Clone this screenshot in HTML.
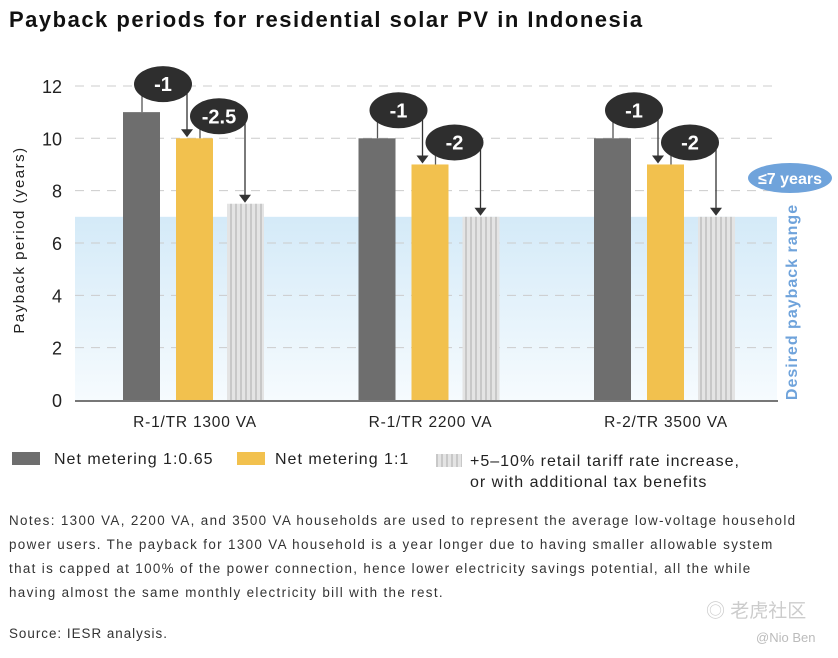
<!DOCTYPE html>
<html><head><meta charset="utf-8"><style>
body{margin:0;background:#fff;font-family:"Liberation Sans",sans-serif;}
#wrap{position:relative;width:838px;height:658px;overflow:hidden;}
.t{position:absolute;color:#222;white-space:nowrap;}
</style></head><body>
<div id="wrap">
<div class="t" style="left:9px;top:7px;font-size:22px;font-weight:bold;color:#111;letter-spacing:1.5px;">Payback periods for residential solar PV in Indonesia</div>
<svg id="c" width="838" height="440" style="position:absolute;left:0;top:0">
<defs>
<linearGradient id="bg" x1="0" y1="0" x2="0" y2="1"><stop offset="0" stop-color="#d4eaf8"/><stop offset="1" stop-color="#f6fbfe"/></linearGradient>
<pattern id="hatch" width="5" height="5" patternUnits="userSpaceOnUse"><rect width="5" height="5" fill="#e4e4e4"/><rect width="2" height="5" fill="#c8c8c8"/></pattern>
</defs>
</svg>
<div class="t" style="left:12px;top:451px;font-size:16px;letter-spacing:1px;"><span style="display:inline-block;width:28px;height:13px;background:#6e6e6e;vertical-align:-1px;margin-right:14px"></span>Net metering 1:0.65</div>
<div class="t" style="left:237px;top:451px;font-size:16px;letter-spacing:1px;"><span style="display:inline-block;width:28px;height:13px;background:#f2c14e;vertical-align:-1px;margin-right:10px"></span>Net metering 1:1</div>
<div class="t" style="left:436px;top:451px;font-size:16px;line-height:21px;letter-spacing:1px;"><span style="display:inline-block;width:26px;height:13px;background:repeating-linear-gradient(90deg,#c8c8c8 0 2px,#e4e4e4 2px 5px);vertical-align:-1px;margin-right:8px"></span>+5–10% retail tariff rate increase,<br><span style="margin-left:34px">or with additional tax benefits</span></div>
<div class="t" style="left:9px;top:509px;font-size:13.4px;line-height:24px;color:#333;letter-spacing:1.35px;">Notes: 1300 VA, 2200 VA, and 3500 VA households are used to represent the average low-voltage household<br>power users. The payback for 1300 VA household is a year longer due to having smaller allowable system<br>that is capped at 100% of the power connection, hence lower electricity savings potential, all the while<br>having almost the same monthly electricity bill with the rest.</div>
<div class="t" style="left:9px;top:626px;font-size:13.4px;color:#333;letter-spacing:1px;">Source: IESR analysis.</div>
<div class="t" style="left:706px;top:596px;font-size:19px;color:#ccc;font-family:'Liberation Sans','Noto Sans CJK SC',sans-serif;">◎ 老虎社区</div>
<div class="t" style="left:756px;top:630px;font-size:13px;color:#bbb;">@Nio Ben</div>
</div>
<script>
const categories=["R-1/TR 1300 VA","R-1/TR 2200 VA","R-2/TR 3500 VA"];
const netMetering065=[11,10,10];
const netMetering1=[10,9,9];
const tariffIncrease=[7.5,7,7];
const yTicks=[0,2,4,6,8,10,12];
const desiredMax=7;
const NS="http://www.w3.org/2000/svg";
const svg=document.getElementById('c');
const y=v=>400-v*26.17;
const gx=i=>123+i*235.5;
function el(t,a,p){const e=document.createElementNS(NS,t);for(const k in a)e.setAttribute(k,a[k]);(p||svg).appendChild(e);return e;}
const band=el('rect',{x:75,y:y(desiredMax),width:702,height:400-y(desiredMax),fill:'url(#bg)'});


yTicks.forEach(v=>{
 if(v>0){const g=el('line',{x1:75,x2:778,y1:y(v),y2:y(v),stroke:'#ccc','stroke-dasharray':'9 7','stroke-width':1});
 
 }
 const t=el('text',{x:62,y:y(v)+7,'text-anchor':'end','font-size':18,fill:'#222','font-family':'Liberation Sans'});t.textContent=v;
 
 
});
const ax=el('line',{x1:75,x2:778,y1:401,y2:401,stroke:'#777','stroke-width':2});


const yt=el('text',{x:0,y:0,transform:'translate(24,240) rotate(-90)','text-anchor':'middle','font-size':15,fill:'#222','font-family':'Liberation Sans','letter-spacing':1.5});yt.textContent='Payback period (years)';


const dt=el('text',{x:0,y:0,transform:'translate(797,302) rotate(-90)','text-anchor':'middle','font-size':16,'font-weight':'bold',fill:'#6fa3db','font-family':'Liberation Sans','letter-spacing':1});dt.textContent='Desired payback range';


const be=el('ellipse',{cx:790,cy:178,rx:42,ry:15,fill:'#6fa3db'});


const bt=el('text',{x:790,y:184,'text-anchor':'middle','font-size':16,'font-weight':'bold',fill:'#fff','font-family':'Liberation Sans'});bt.textContent='≤7 years';


const W=37;
function badge(cx,cy,txt){
 const e=el('ellipse',{cx:cx,cy:cy,rx:29,ry:18,fill:'#2e2e2e'});
 
 
 const t=el('text',{x:cx,y:cy+7,'text-anchor':'middle','font-size':20,'font-weight':'bold',fill:'#fff','font-family':'Liberation Sans'});t.textContent=txt;
 
 
}
function arrow(x,y1,y2){
 const l=el('line',{x1:x,x2:x,y1:y1,y2:y2-7,stroke:'#333','stroke-width':1.3});
 
 
 el('polygon',{points:`${x-6},${y2-9} ${x+6},${y2-9} ${x},${y2-1}`,fill:'#333'});
}
categories.forEach((c,i)=>{
 const x0=gx(i),x1=x0+53,x2=x0+104;
 [[x0,netMetering065[i],'#6e6e6e','bar-net-metering-065'],[x1,netMetering1[i],'#f2c14e','bar-net-metering-1'],[x2,tariffIncrease[i],'url(#hatch)','bar-tariff-increase']].forEach(b=>{
  const r=el('rect',{x:b[0],y:y(b[1]),width:W,height:400-y(b[1]),fill:b[2]});
  
  
 });
 const d1=netMetering065[i]-netMetering1[i], d2=netMetering1[i]-tariffIncrease[i];
 const b1y=y(netMetering065[i])-28, b2y=y(netMetering1[i])-22;
 el('line',{x1:x0+19,x2:x0+19,y1:b1y,y2:y(netMetering065[i]),stroke:'#555','stroke-width':1.3});
 arrow(x1+11,b1y,y(netMetering1[i]));
 el('line',{x1:x1+24,x2:x1+24,y1:b2y,y2:y(netMetering1[i]),stroke:'#555','stroke-width':1.3});
 arrow(x2+18,b2y,y(tariffIncrease[i]));
 badge(x0+40,b1y,'-'+d1);
 badge(x1+43,b2y,'-'+d2);
 const t=el('text',{x:x0+72,y:427,'text-anchor':'middle','font-size':15.5,fill:'#222','font-family':'Liberation Sans','letter-spacing':0.8});t.textContent=c;
 
 
});
</script>
</body></html>
